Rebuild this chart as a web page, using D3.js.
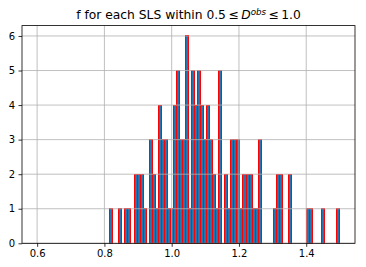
<!DOCTYPE html>
<html>
<head>
<meta charset="utf-8">
<script src="https://cdn.jsdelivr.net/npm/d3@7"></script>
<style>
    body { margin: 0; background: #fff; }
    text { font-family: "DejaVu Sans", sans-serif; fill: #000; }
</style>
</head>
<body>
<div id="chart"></div>
<script>
const width = 366;
const height = 267;
const margin = { top: 25.6, right: 11, bottom: 23.7, left: 22 };

// histogram bins: 100 bins between 0.6 and 1.5
const binStart = 0.6;
const binEnd = 1.5;
const binCount = 100;
// non-zero counts, keyed by bin index
const binIndex = [24, 27, 29, 30, 32, 33, 34, 35, 37, 38, 39, 40, 41, 42, 43, 44, 45, 46, 47, 48, 49,
    50, 51, 52, 53, 54, 55, 56, 57, 58, 59, 60, 62, 63, 64, 65, 66, 67, 68, 69, 70, 71, 72, 73,
    78, 79, 80, 83, 89, 90, 94, 99];
const binCounts = [1, 1, 1, 1, 2, 2, 2, 1, 3, 2, 1, 4, 3, 3, 1, 1, 4, 5, 3, 3, 6,
    1, 5, 4, 5, 4, 3, 4, 3, 2, 1, 5, 2, 1, 3, 3, 3, 1, 2, 2, 2, 1, 1, 3,
    1, 2, 2, 2, 1, 1, 1, 1];

const xTicks = [0.6, 0.8, 1.0, 1.2, 1.4];
const yTicks = [0, 1, 2, 3, 4, 5, 6];

const binWidth = (binEnd - binStart) / binCount;
const bins = binIndex.map((k, i) => ({
    x0: binStart + k * binWidth,
    x1: binStart + (k + 1) * binWidth,
    count: binCounts[i]
}));

const pad = (binEnd - binStart) * 0.05;
const x = d3.scaleLinear()
    .domain([binStart - pad, binEnd + pad])
    .range([margin.left, width - margin.right]);

const y = d3.scaleLinear()
    .domain([0, d3.max(binCounts) * 1.05])
    .range([height - margin.bottom, margin.top]);

const svg = d3.select("#chart")
    .append("svg")
    .attr("width", width)
    .attr("height", height);

// bars (drawn first, grid sits above them like matplotlib)
svg.append("g")
    .attr("shape-rendering", "crispEdges")
    .selectAll("rect")
    .data(bins)
    .enter()
    .append("rect")
    .attr("x", d => x(d.x0))
    .attr("width", d => x(d.x1) - x(d.x0))
    .attr("y", d => y(d.count))
    .attr("height", d => y(0) - y(d.count))
    .attr("fill", "#1f77b4")
    .attr("stroke", "red")
    .attr("stroke-width", 1);

// grid
const grid = svg.append("g")
    .attr("stroke", "#b0b0b0")
    .attr("stroke-width", 0.8);

grid.selectAll("line.gx")
    .data(xTicks)
    .enter()
    .append("line")
    .attr("x1", d => x(d))
    .attr("x2", d => x(d))
    .attr("y1", y.range()[0])
    .attr("y2", y.range()[1]);

grid.selectAll("line.gy")
    .data(yTicks)
    .enter()
    .append("line")
    .attr("x1", x.range()[0])
    .attr("x2", x.range()[1])
    .attr("y1", d => y(d))
    .attr("y2", d => y(d));

// axes
const xAxis = d3.axisBottom(x)
    .tickValues(xTicks)
    .tickSize(3.5)
    .tickPadding(3.5)
    .tickFormat(d3.format(".1f"));

const yAxis = d3.axisLeft(y)
    .tickValues(yTicks)
    .tickSize(3.5)
    .tickPadding(3.5)
    .tickFormat(d3.format("d"));

svg.append("g")
    .attr("transform", `translate(0, ${height - margin.bottom})`)
    .call(xAxis)
    .call(g => g.select(".domain").remove())
    .call(g => g.selectAll("text").attr("font-size", 10).attr("font-family", "DejaVu Sans"));

svg.append("g")
    .attr("transform", `translate(${margin.left}, 0)`)
    .call(yAxis)
    .call(g => g.select(".domain").remove())
    .call(g => g.selectAll("text").attr("font-size", 10).attr("font-family", "DejaVu Sans"));

svg.selectAll(".tick line").attr("stroke", "#000").attr("stroke-width", 0.8);

// frame
svg.append("rect")
    .attr("x", x.range()[0])
    .attr("y", y.range()[1])
    .attr("width", x.range()[1] - x.range()[0])
    .attr("height", y.range()[0] - y.range()[1])
    .attr("fill", "none")
    .attr("stroke", "#000")
    .attr("stroke-width", 0.8);

// title
const title = svg.append("text")
    .attr("x", (x.range()[0] + x.range()[1]) / 2)
    .attr("y", 19)
    .attr("text-anchor", "middle")
    .attr("font-size", 12.3);

title.append("tspan").text("f for each SLS within 0.5\u2009\u2264\u2009");
title.append("tspan").attr("font-style", "italic").text("D");
title.append("tspan").attr("font-style", "italic").attr("font-size", 8.7).attr("dy", -4.5).text("obs");
title.append("tspan").attr("dy", 4.5).text("\u2009\u2264\u20091.0");
</script>
</body>
</html>
